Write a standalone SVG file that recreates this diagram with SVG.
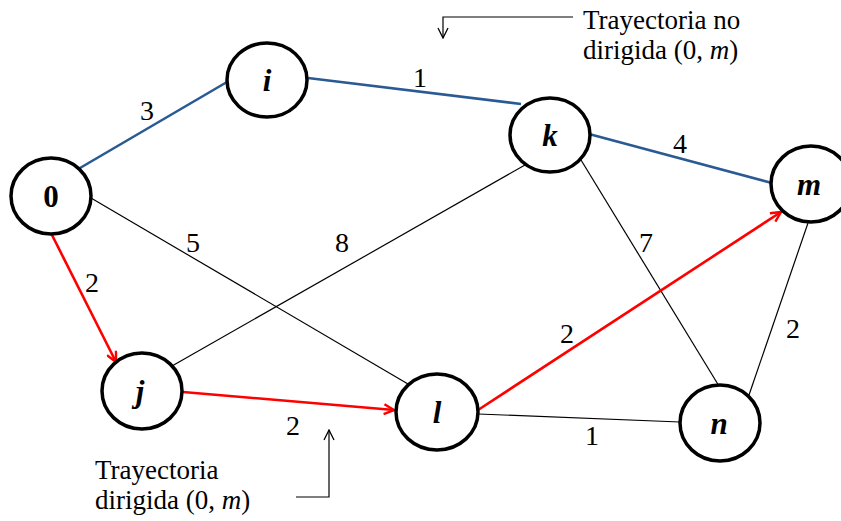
<svg xmlns="http://www.w3.org/2000/svg" width="841" height="521" viewBox="0 0 841 521">
<style>
.node{fill:#fff;stroke:#000;stroke-width:3.5}
.nl{font-family:'Liberation Serif','Times New Roman',serif;font-size:31px;font-weight:bold;font-style:italic;text-anchor:middle}
.blue{stroke:#2A5A93;stroke-width:2.6;fill:none}
.red{stroke:#FF0000;stroke-width:2.6;fill:none}
.thin{stroke:#000;stroke-width:1.2;fill:none}
.w{font-family:'Liberation Serif','Times New Roman',serif;font-size:28px;text-anchor:middle}
.ann{font-family:'Liberation Serif','Times New Roman',serif;font-size:27px}
</style>
<defs>
<marker id="ra" viewBox="0 0 12 12" refX="11" refY="6" markerWidth="12" markerHeight="12" markerUnits="userSpaceOnUse" orient="auto">
<path d="M1,1 L11,6 L1,11" fill="none" stroke="#FF0000" stroke-width="2.4"/>
</marker>
<marker id="ka" viewBox="0 0 12 12" refX="11" refY="6" markerWidth="12" markerHeight="12" markerUnits="userSpaceOnUse" orient="auto">
<path d="M1,1 L11,6 L1,11" fill="none" stroke="#000" stroke-width="1.3"/>
</marker>
</defs>
<g id="connectors">
<line class="blue" x1="80" y1="168" x2="227" y2="82"/>
<line class="blue" x1="308" y1="78" x2="521" y2="104"/>
<line class="blue" x1="589" y1="134" x2="772" y2="183"/>
<line class="thin" x1="91" y1="198" x2="408" y2="384"/>
<line class="thin" x1="172" y1="366" x2="525" y2="165"/>
<line class="thin" x1="581" y1="160" x2="719" y2="386"/>
<line class="thin" x1="808" y1="223" x2="749" y2="395"/>
<line class="thin" x1="478" y1="414" x2="680" y2="422"/>
<line class="red" x1="52" y1="235" x2="116" y2="362" marker-end="url(#ra)"/>
<line class="red" x1="183" y1="392" x2="394" y2="410" marker-end="url(#ra)"/>
<line class="red" x1="478" y1="410" x2="781" y2="212" marker-end="url(#ra)"/>
</g>
<g id="node-0"><ellipse class="node" cx="51" cy="196" rx="40" ry="38"/><text class="nl" x="51" y="207" style="font-style:normal">0</text></g>
<g id="node-i"><ellipse class="node" cx="267" cy="80" rx="40" ry="37"/><text class="nl" x="267" y="91">i</text></g>
<g id="node-k"><ellipse class="node" cx="550" cy="135" rx="40" ry="37"/><text class="nl" x="550" y="146">k</text></g>
<g id="node-m"><ellipse class="node" cx="811" cy="184" rx="40" ry="38"/><text class="nl" x="809" y="195">m</text></g>
<g id="node-j"><ellipse class="node" cx="142" cy="391" rx="40" ry="38"/><text class="nl" x="140" y="402">j</text></g>
<g id="node-l"><ellipse class="node" cx="437" cy="412" rx="41" ry="38"/><text class="nl" x="437" y="423">l</text></g>
<g id="node-n"><ellipse class="node" cx="720" cy="423" rx="40" ry="38"/><text class="nl" x="719" y="434">n</text></g>
<g id="labels">
<text class="w" x="147" y="120">3</text>
<text class="w" x="420" y="87">1</text>
<text class="w" x="680" y="153">4</text>
<text class="w" x="193" y="252">5</text>
<text class="w" x="342" y="252">8</text>
<text class="w" x="646" y="252">7</text>
<text class="w" x="92" y="292">2</text>
<text class="w" x="567" y="343">2</text>
<text class="w" x="793" y="338">2</text>
<text class="w" x="293" y="435">2</text>
<text class="w" x="592" y="445">1</text>
</g>
<g id="annotations">
<polyline class="thin" points="573,17 443,17 443,38" marker-end="url(#ka)"/>
<text class="ann" x="583" y="29">Trayectoria no</text>
<text class="ann" x="583" y="59">dirigida (0, <tspan font-style="italic">m</tspan>)</text>
<polyline class="thin" points="296,497 329,497 329,430" marker-end="url(#ka)"/>
<text class="ann" x="95" y="479">Trayectoria</text>
<text class="ann" x="95" y="509">dirigida (0, <tspan font-style="italic">m</tspan>)</text>
</g>
</svg>
